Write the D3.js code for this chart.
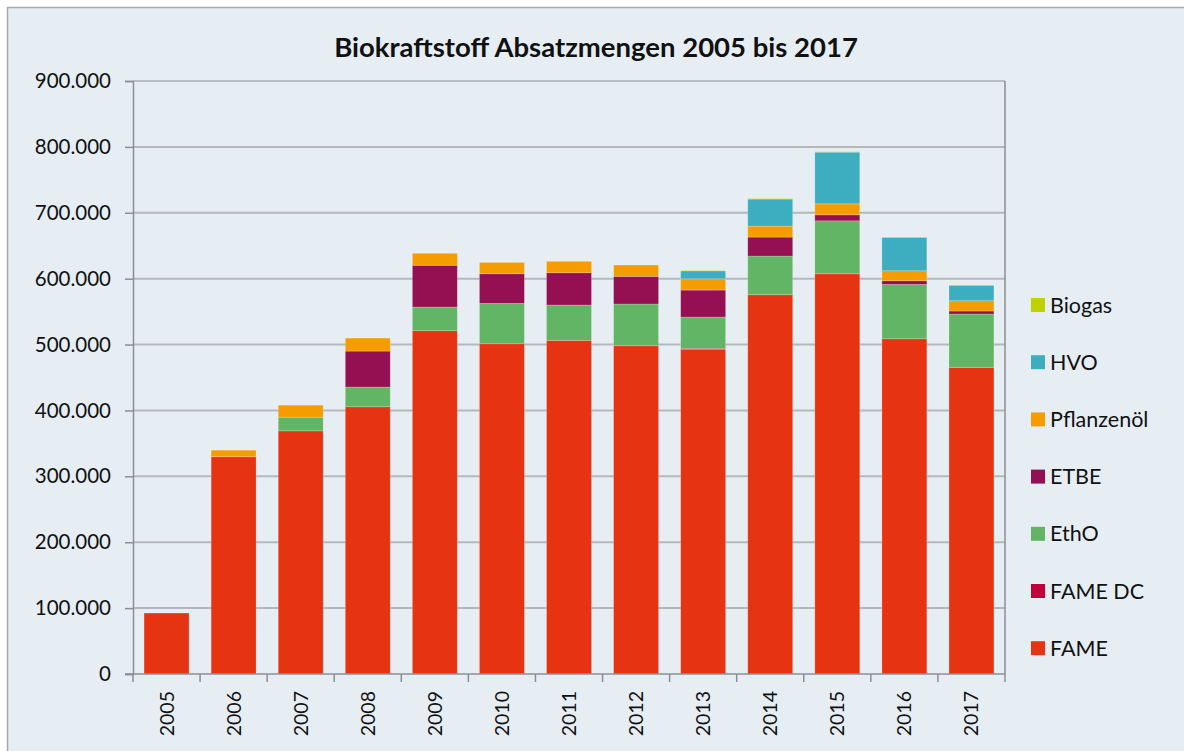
<!DOCTYPE html>
<html><head><meta charset="utf-8">
<script src="https://cdn.jsdelivr.net/npm/d3@7"></script>
<style>html,body{margin:0;padding:0;background:#fff;}svg{display:block;}</style>
</head><body>
<svg id="c" width="1184" height="751"></svg>
<script>
const years = ["2005","2006","2007","2008","2009","2010","2011","2012","2013","2014","2015","2016","2017"];
const FAME       = [92.5,329.7,369,405.6,521,501.2,506.4,498.2,492.7,575.6,607.4,508.8,465.4];
const FAME_DC    = [0,0,0,0,0,0,0,0,1.5,0,0,0,0];
const EthO       = [0,0,20.8,29.9,36,61.3,53.6,63.3,47.5,58.7,80.4,82.5,80.9];
const ETBE       = [0,0,0,54.6,63.3,44.9,49,42,41,28.8,9.1,5.5,4.6];
const Pflanzenoel= [0,10,18.2,19.7,18.2,17.3,17.3,17.2,17.1,16.7,16.7,15.2,15.6];
const HVO        = [0,0,0,0,0,0,0,0,12.1,41,78.4,50.7,23.4];
const Biogas     = [0,0,0,0,0,0,0,0,0.6,0.8,0.8,0.6,0.6];
const seriesNames = ["FAME","FAME DC","EthO","ETBE","Pflanzenöl","HVO","Biogas"];
const seriesColors = ["#e63312","#c0003a","#62b565","#951052","#f59d00","#3daec0","#bfd200"];
const yTicks = [0,100000,200000,300000,400000,500000,600000,700000,800000,900000];
const title = "Biokraftstoff Absatzmengen 2005 bis 2017";

const seriesVals = [FAME,FAME_DC,EthO,ETBE,Pflanzenoel,HVO,Biogas];
const rows = years.map((y,i)=>{const r={year:y}; seriesNames.forEach((n,k)=>r[n]=seriesVals[k][i]*1000); return r;});

const svg = d3.select("#c");
const font = "Lato, 'Open Sans', sans-serif";
// background
svg.append("rect").attr("x",7.5).attr("y",7.5).attr("width",1190).attr("height",760)
  .attr("fill","#e6eef4").attr("stroke","#a8a8a8").attr("stroke-width",1.5);

const m = {l:133, r:1005, t:81, b:674};
const x = d3.scaleBand().domain(years).range([m.l,m.r]).paddingInner(0.33).paddingOuter(0.165);
const y = d3.scaleLinear().domain([0,900000]).range([m.b,m.t]);
const loc = d3.formatLocale({decimal:",",thousands:".",grouping:[3],currency:["","€"]});
const fmt = loc.format(",d");

// gridlines
svg.append("g").selectAll("line").data(yTicks.filter(d=>d>0)).join("line")
  .attr("x1",m.l).attr("x2",m.r).attr("y1",d=>y(d)).attr("y2",d=>y(d))
  .attr("stroke",d=>d===900000?"#8a8f92":"#b3b8bb").attr("stroke-width",d=>d===900000?1.2:2);
// right border
svg.append("line").attr("x1",m.r).attr("x2",m.r).attr("y1",m.t).attr("y2",m.b).attr("stroke","#8a8f92").attr("stroke-width",1.5);

// bars
const stack = d3.stack().keys(seriesNames)(rows);
const color = d3.scaleOrdinal().domain(seriesNames).range(seriesColors);
svg.append("g").selectAll("g").data(stack).join("g").attr("fill",d=>color(d.key))
  .selectAll("rect").data(d=>d.filter(p=>p[1]-p[0]>0)).join("rect")
  .attr("x",d=>x(d.data.year)).attr("width",x.bandwidth())
  .attr("y",d=>y(d[1])).attr("height",d=>y(d[0])-y(d[1]))
  .attr("stroke","rgba(255,255,255,0.25)").attr("stroke-width",0.8);

// y axis
const ya = svg.append("g").attr("transform",`translate(${m.l},0)`)
  .call(d3.axisLeft(y).tickValues(yTicks).tickFormat(fmt).tickSize(8).tickPadding(14));
ya.select(".domain").attr("stroke","#8a8f92").attr("stroke-width",1.5);
ya.selectAll(".tick line").attr("stroke","#8a8f92").attr("stroke-width",1.5);
ya.selectAll("text").attr("font-family",font).attr("font-size",20.5).attr("fill","#111");

// x axis
const xa = svg.append("g").attr("transform",`translate(0,${m.b})`)
  .call(d3.axisBottom(x).tickSize(0));
xa.select(".domain").remove();
xa.selectAll(".tick text").remove();
svg.append("line").attr("x1",m.l-8).attr("x2",m.r).attr("y1",m.b).attr("y2",m.b).attr("stroke","#8a8f92").attr("stroke-width",1.5);
const edges = years.map(d=>x(d)-x.step()*x.paddingInner()/2).concat([m.r]);
svg.append("g").selectAll("line").data(edges).join("line")
  .attr("x1",d=>d).attr("x2",d=>d).attr("y1",m.b).attr("y2",m.b+8).attr("stroke","#8a8f92").attr("stroke-width",1.5);
svg.append("g").selectAll("text").data(years).join("text")
  .attr("transform",d=>`translate(${x(d)+x.bandwidth()/2+7},${m.b+17}) rotate(-90)`)
  .attr("text-anchor","end").attr("font-family",font).attr("font-size",19.5).attr("fill","#111").text(d=>d);

// title
svg.append("text").attr("x",596).attr("y",57).attr("text-anchor","middle")
  .attr("font-family",font).attr("font-weight","bold").attr("font-size",27.5).attr("fill","#111").text(title);

// legend
const legOrder = seriesNames.slice().reverse();
const lg = svg.append("g").selectAll("g").data(legOrder).join("g")
  .attr("transform",(d,i)=>`translate(1031,${305+i*57.2})`);
lg.append("rect").attr("x",0).attr("y",-7).attr("width",14).attr("height",14).attr("fill",d=>color(d));
lg.append("text").attr("x",19).attr("y",7.5).attr("font-family",font).attr("font-size",21.5).attr("fill","#111").text(d=>d);
</script>
</body></html>
